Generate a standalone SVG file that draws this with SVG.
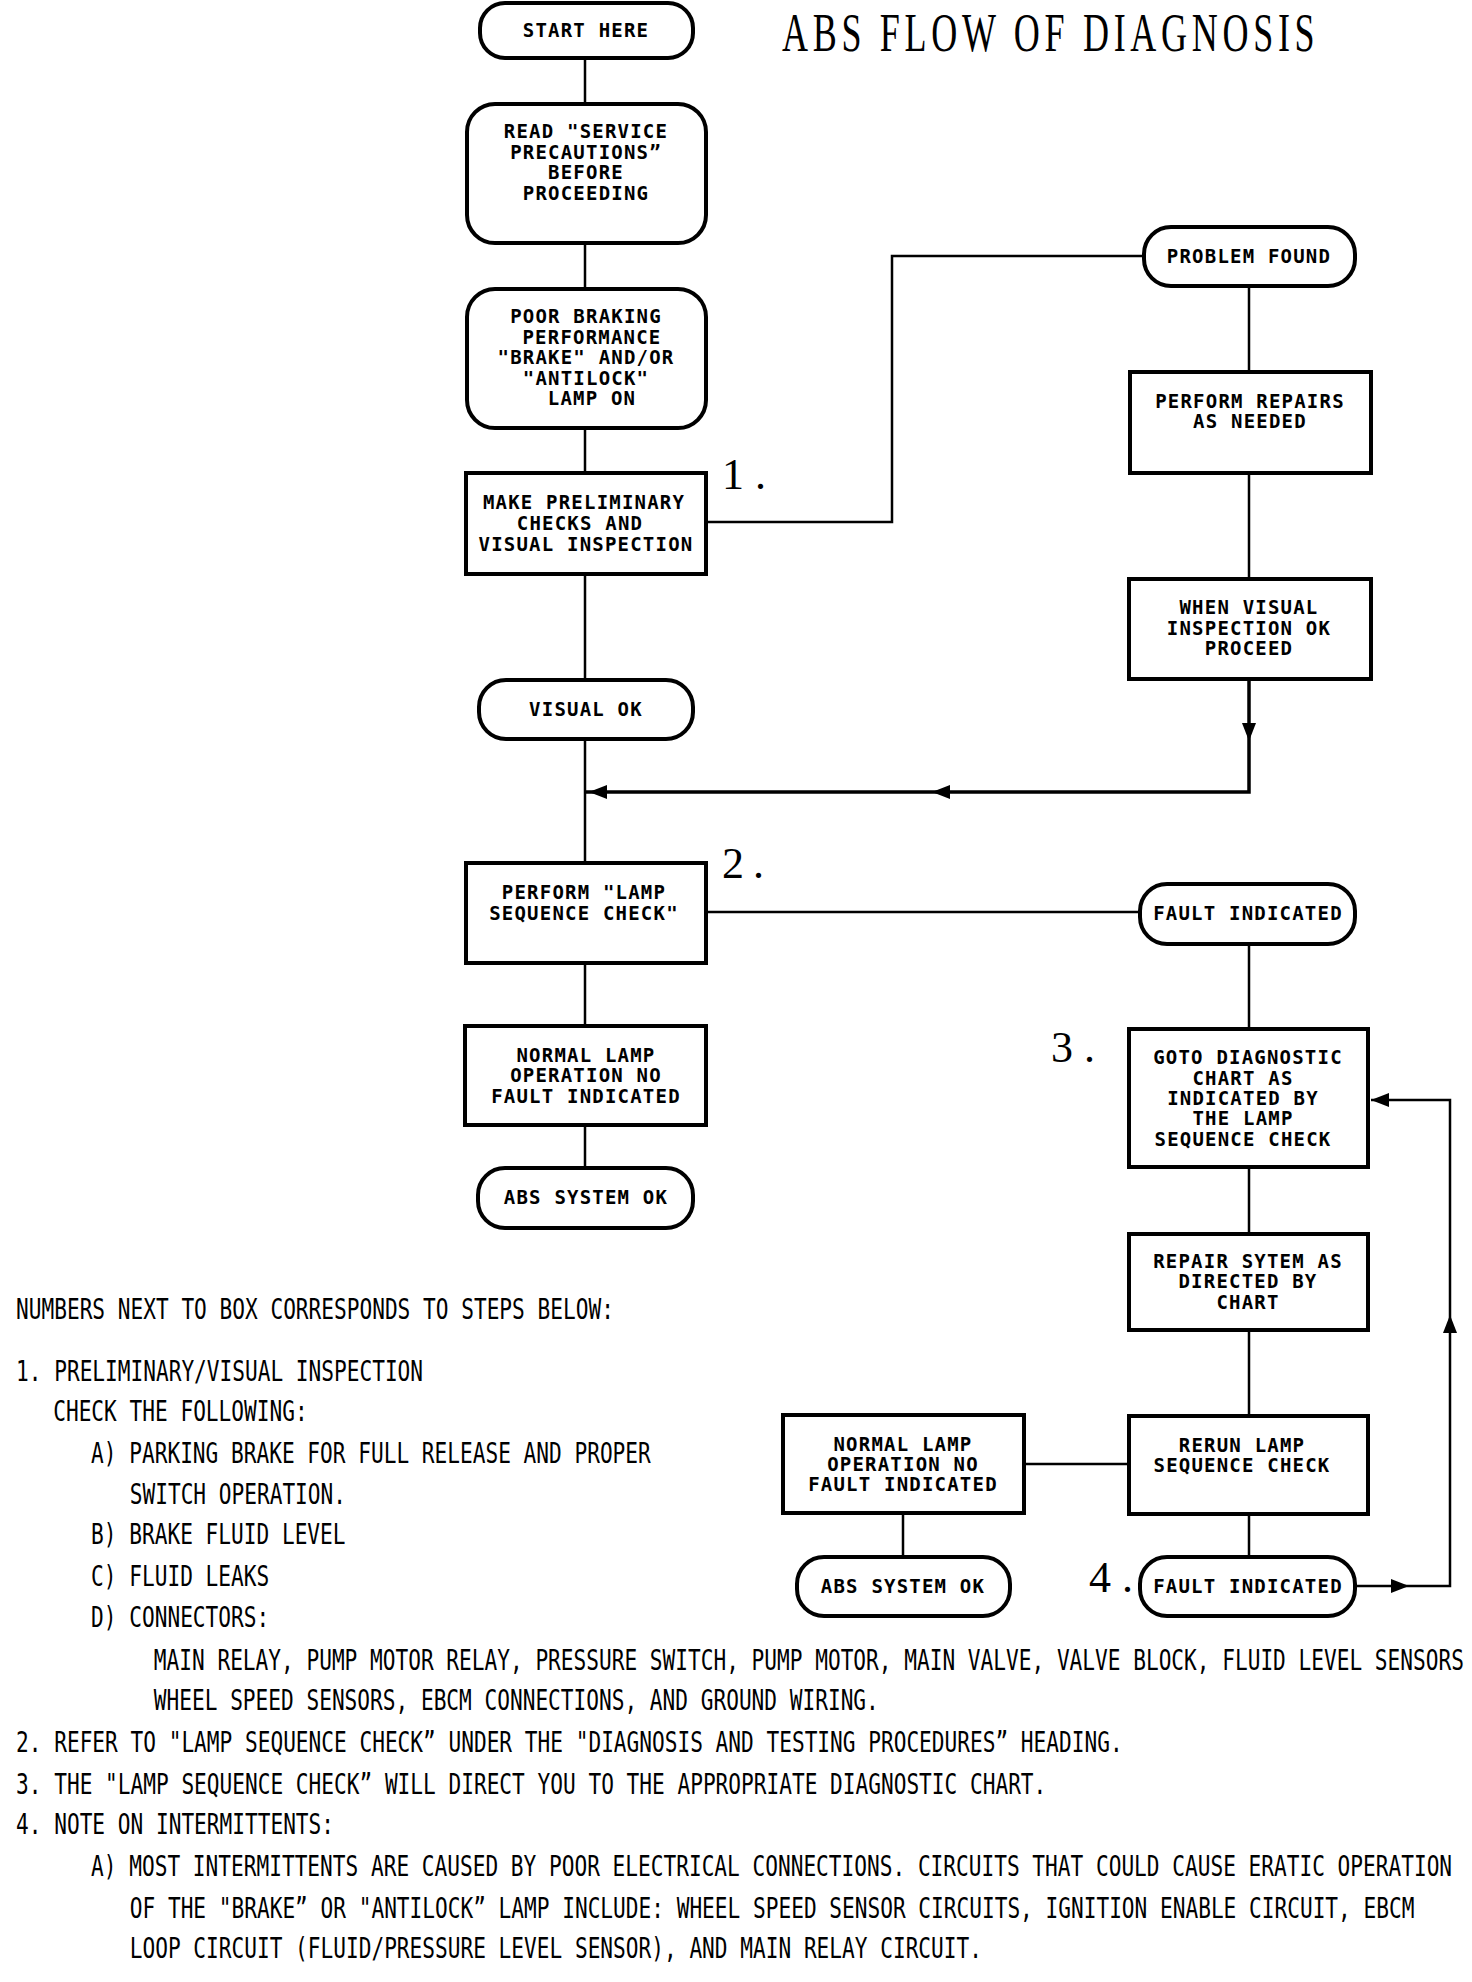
<svg xmlns="http://www.w3.org/2000/svg" xmlns:xlink="http://www.w3.org/1999/xlink" width="1472" height="1982" viewBox="0 0 1472 1982">
<style>
.box{fill:#fff;stroke:#000;stroke-width:4}
.ln{fill:none;stroke:#000;stroke-width:2.5}
.thk{fill:none;stroke:#000;stroke-width:3.5}
.bt{font-family:"DejaVu Sans Mono","Liberation Mono",monospace;font-weight:bold;font-size:19px;letter-spacing:1.2px;text-anchor:middle;fill:#000}
.tx{font-family:"DejaVu Sans Mono","Liberation Mono",monospace;font-size:29px;fill:#000}
.num{font-family:"Liberation Serif",serif;font-size:44px;fill:#000}
.title{font-family:"Liberation Serif",serif;font-size:54px;letter-spacing:7px;fill:#000}
</style>
<defs>
<path id="tri" d="M0,0 L-18,-7 L-18,7 Z" fill="#000"/>
</defs>
<rect width="1472" height="1982" fill="#fff"/>

<g id="connectors">
<path class="ln" d="M585,58V104 M585,243V289 M585,428V473 M585,574V680 M585,739V863 M585,963V1026 M585,1125V1168"/>
<path class="ln" d="M706,522H892V256H1144"/>
<path class="ln" d="M1249,286V372 M1249,473V579"/>
<path class="thk" d="M1249,679V792H585"/>
<path class="ln" d="M706,912H1140"/>
<path class="ln" d="M1249,944V1029 M1249,1167V1234 M1249,1330V1416 M1249,1514V1557"/>
<path class="ln" d="M1024,1464H1129 M903,1513V1557"/>
<path class="ln" d="M1355,1586H1450V1100H1371"/>
<use xlink:href="#tri" transform="translate(1249,741) rotate(90)"/>
<use xlink:href="#tri" transform="translate(932,792) rotate(180)"/>
<use xlink:href="#tri" transform="translate(589,792) rotate(180)"/>
<use xlink:href="#tri" transform="translate(1409,1586)"/>
<use xlink:href="#tri" transform="translate(1450,1315) rotate(-90)"/>
<use xlink:href="#tri" transform="translate(1371,1100) rotate(180)"/>
</g>

<g id="title" transform="translate(782,51) scale(0.668,1)"><text class="title" x="0" y="0">ABS FLOW OF DIAGNOSIS</text></g>

<g id="start"><rect class="box" x="480" y="3" width="213" height="55" rx="25"/><text class="bt" x="586" y="37">START HERE</text></g>
<g id="read"><rect class="box" x="467" y="104" width="239" height="139" rx="28"/>
<text class="bt" x="586" y="138">READ "SERVICE</text><text class="bt" x="586" y="159">PRECAUTIONS”</text><text class="bt" x="586" y="179">BEFORE</text><text class="bt" x="586" y="200">PROCEEDING</text></g>
<g id="poor"><rect class="box" x="467" y="289" width="239" height="139" rx="28"/>
<text class="bt" x="586" y="323">POOR BRAKING</text><text class="bt" x="592" y="344">PERFORMANCE</text><text class="bt" x="586" y="364">"BRAKE" AND/OR</text><text class="bt" x="586" y="385">"ANTILOCK"</text><text class="bt" x="592" y="405">LAMP ON</text></g>
<g id="prelim"><rect class="box" x="466" y="473" width="240" height="101"/>
<text class="bt" x="584" y="509">MAKE PRELIMINARY</text><text class="bt" x="580" y="530">CHECKS AND</text><text class="bt" x="586" y="551">VISUAL INSPECTION</text></g>
<g id="label1"><text class="num" x="722" y="489" textLength="44" lengthAdjust="spacing">1.</text></g>
<g id="visualok"><rect class="box" x="479" y="680" width="214" height="59" rx="27"/><text class="bt" x="586" y="716">VISUAL OK</text></g>
<g id="lampcheck"><rect class="box" x="466" y="863" width="240" height="100"/>
<text class="bt" x="584" y="899">PERFORM "LAMP</text><text class="bt" x="584" y="920">SEQUENCE CHECK"</text></g>
<g id="label2"><text class="num" x="722" y="878" textLength="42" lengthAdjust="spacing">2.</text></g>
<g id="normal1"><rect class="box" x="465" y="1026" width="241" height="99"/>
<text class="bt" x="586" y="1062">NORMAL LAMP</text><text class="bt" x="586" y="1082">OPERATION NO</text><text class="bt" x="586" y="1103">FAULT INDICATED</text></g>
<g id="absok1"><rect class="box" x="478" y="1168" width="215" height="60" rx="27"/><text class="bt" x="586" y="1204">ABS SYSTEM OK</text></g>

<g id="problem"><rect class="box" x="1144" y="227" width="211" height="59" rx="27"/><text class="bt" x="1249" y="263">PROBLEM FOUND</text></g>
<g id="repairs"><rect class="box" x="1130" y="372" width="241" height="101"/>
<text class="bt" x="1250" y="408">PERFORM REPAIRS</text><text class="bt" x="1250" y="428">AS NEEDED</text></g>
<g id="whenvisual"><rect class="box" x="1129" y="579" width="242" height="100"/>
<text class="bt" x="1249" y="614">WHEN VISUAL</text><text class="bt" x="1249" y="635">INSPECTION OK</text><text class="bt" x="1249" y="655">PROCEED</text></g>
<g id="fault1"><rect class="box" x="1140" y="884" width="215" height="60" rx="27"/><text class="bt" x="1248" y="920">FAULT INDICATED</text></g>
<g id="goto"><rect class="box" x="1129" y="1029" width="239" height="138"/>
<text class="bt" x="1248" y="1064">GOTO DIAGNOSTIC</text><text class="bt" x="1243" y="1085">CHART AS</text><text class="bt" x="1243" y="1105">INDICATED BY</text><text class="bt" x="1243" y="1125">THE LAMP</text><text class="bt" x="1243" y="1146">SEQUENCE CHECK</text></g>
<g id="label3"><text class="num" x="1051" y="1062" textLength="44" lengthAdjust="spacing">3.</text></g>
<g id="repairsys"><rect class="box" x="1129" y="1234" width="239" height="96"/>
<text class="bt" x="1248" y="1268">REPAIR SYTEM AS</text><text class="bt" x="1248" y="1288">DIRECTED BY</text><text class="bt" x="1248" y="1309">CHART</text></g>
<g id="rerun"><rect class="box" x="1129" y="1416" width="239" height="98"/>
<text class="bt" x="1242" y="1452">RERUN LAMP</text><text class="bt" x="1242" y="1472">SEQUENCE CHECK</text></g>
<g id="normal2"><rect class="box" x="783" y="1415" width="241" height="98"/>
<text class="bt" x="903" y="1451">NORMAL LAMP</text><text class="bt" x="903" y="1471">OPERATION NO</text><text class="bt" x="903" y="1491">FAULT INDICATED</text></g>
<g id="absok2"><rect class="box" x="797" y="1557" width="213" height="59" rx="27"/><text class="bt" x="903" y="1593">ABS SYSTEM OK</text></g>
<g id="fault2"><rect class="box" x="1140" y="1557" width="215" height="59" rx="27"/><text class="bt" x="1248" y="1593">FAULT INDICATED</text></g>
<g id="label4"><text class="num" x="1089" y="1592" textLength="44" lengthAdjust="spacing">4.</text></g>

<g id="notes" transform="scale(0.729,1)">
<text class="tx" x="22" y="1319">NUMBERS NEXT TO BOX CORRESPONDS TO STEPS BELOW:</text>
<text class="tx" x="22" y="1381">1. PRELIMINARY/VISUAL INSPECTION</text>
<text class="tx" x="73" y="1421">CHECK THE FOLLOWING:</text>
<text class="tx" x="125" y="1463">A) PARKING BRAKE FOR FULL RELEASE AND PROPER</text>
<text class="tx" x="178" y="1504">SWITCH OPERATION.</text>
<text class="tx" x="125" y="1544">B) BRAKE FLUID LEVEL</text>
<text class="tx" x="125" y="1586">C) FLUID LEAKS</text>
<text class="tx" x="125" y="1627">D) CONNECTORS:</text>
<text class="tx" x="211" y="1670">MAIN RELAY, PUMP MOTOR RELAY, PRESSURE SWITCH, PUMP MOTOR, MAIN VALVE, VALVE BLOCK, FLUID LEVEL SENSORS</text>
<text class="tx" x="211" y="1710">WHEEL SPEED SENSORS, EBCM CONNECTIONS, AND GROUND WIRING.</text>
<text class="tx" x="22" y="1752">2. REFER TO "LAMP SEQUENCE CHECK” UNDER THE "DIAGNOSIS AND TESTING PROCEDURES” HEADING.</text>
<text class="tx" x="22" y="1794">3. THE "LAMP SEQUENCE CHECK” WILL DIRECT YOU TO THE APPROPRIATE DIAGNOSTIC CHART.</text>
<text class="tx" x="22" y="1834">4. NOTE ON INTERMITTENTS:</text>
<text class="tx" x="125" y="1876">A) MOST INTERMITTENTS ARE CAUSED BY POOR ELECTRICAL CONNECTIONS. CIRCUITS THAT COULD CAUSE ERATIC OPERATION</text>
<text class="tx" x="178" y="1918">OF THE "BRAKE” OR "ANTILOCK” LAMP INCLUDE: WHEEL SPEED SENSOR CIRCUITS, IGNITION ENABLE CIRCUIT, EBCM</text>
<text class="tx" x="178" y="1958">LOOP CIRCUIT (FLUID/PRESSURE LEVEL SENSOR), AND MAIN RELAY CIRCUIT.</text>
</g>
</svg>
